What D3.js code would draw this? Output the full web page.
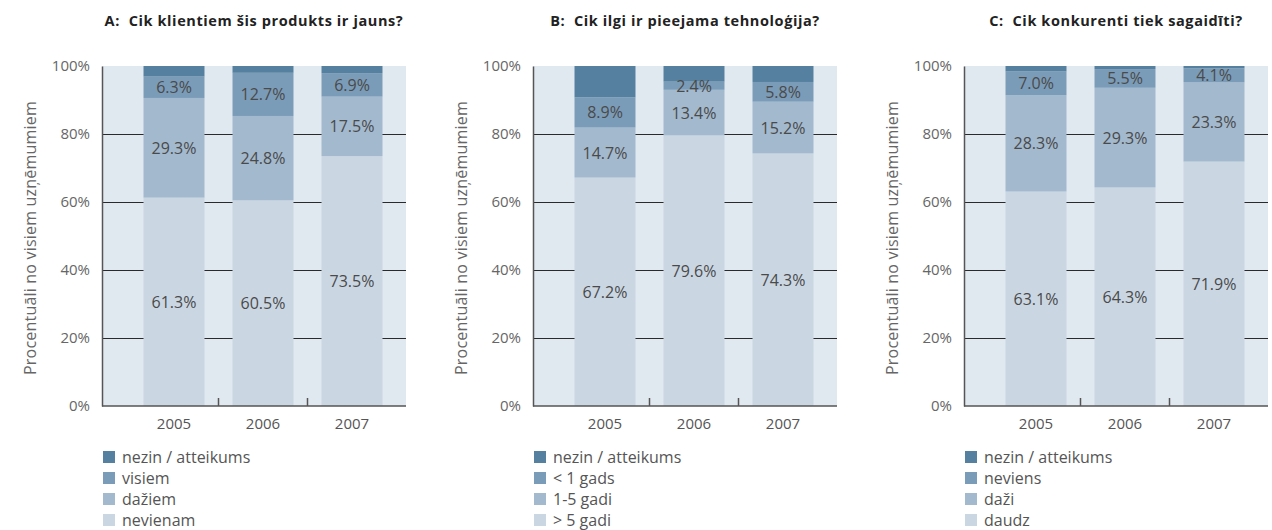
<!DOCTYPE html>
<html>
<head>
<meta charset="utf-8">
<script src="https://cdn.jsdelivr.net/npm/d3@7"></script>
<style>
  body { margin: 0; background: #fff; }
  text { font-family: "Open Sans", sans-serif; }
</style>
</head>
<body>
<script>
// Chart data
var years = ["2005", "2006", "2007"];
var titles = [
  "A:  Cik klientiem šis produkts ir jauns?",
  "B:  Cik ilgi ir pieejama tehnoloģija?",
  "C:  Cik konkurenti tiek sagaidīti?"
];
// series names, bottom of the stack first
var seriesA = ["nevienam", "dažiem", "visiem", "nezin / atteikums"];
var seriesB = ["> 5 gadi", "1-5 gadi", "< 1 gads", "nezin / atteikums"];
var seriesC = ["daudz", "daži", "neviens", "nezin / atteikums"];
// one row per series, one value per year
var valuesA = [[61.3, 60.5, 73.5], [29.3, 24.8, 17.5], [6.3, 12.7, 6.9], [3.1, 2.0, 2.1]];
var valuesB = [[67.2, 79.6, 74.3], [14.7, 13.4, 15.2], [8.9, 2.4, 5.8], [9.2, 4.6, 4.7]];
var valuesC = [[63.1, 64.3, 71.9], [28.3, 29.3, 23.3], [7.0, 5.5, 4.1], [1.6, 0.9, 0.7]];
var yTicks = [0, 20, 40, 60, 80, 100];
var gridTicks = [20, 40, 60, 80];

var colors = ["#cad7e3", "#a3b9ce", "#7b9cb8", "#56809f"];

var svgWidth = 1272;
var svgHeight = 530;

var svg = d3.select("body")
  .append("svg")
  .attr("width", svgWidth)
  .attr("height", svgHeight);

var panels = [
  { title: titles[0], series: seriesA, values: valuesA },
  { title: titles[1], series: seriesB, values: valuesB },
  { title: titles[2], series: seriesC, values: valuesC }
];

// plot area of one panel (panel A), the others are shifted
var plotLeft = 102;
var plotRight = 406;
var plotTop = 66;
var plotBottom = 406;
var panelStep = 431;

var yScale = d3.scaleLinear()
  .domain([0, 100])
  .range([plotBottom, plotTop]);

panels.forEach(function (p, i) {
  var g = svg.append("g")
    .attr("transform", `translate(${i * panelStep}, 0)`);

  var xScale = d3.scaleBand()
    .domain(years)
    .range([129.5, 396.5])
    .paddingInner(0.315)
    .paddingOuter(0.1575);

  // background
  g.append("rect")
    .attr("x", plotLeft)
    .attr("y", plotTop)
    .attr("width", plotRight - plotLeft)
    .attr("height", plotBottom - plotTop)
    .attr("fill", "#e0e8f0");

  // grid lines (behind bars)
  g.append("g")
    .attr("transform", `translate(${plotLeft}, 0)`)
    .call(d3.axisLeft(yScale).tickValues(gridTicks).tickSize(-(plotRight - plotLeft)).tickFormat(""))
    .call(s => s.select(".domain").remove())
    .call(s => s.selectAll(".tick line").attr("stroke", "#2a2a2a").attr("stroke-width", 1));

  // stacked data
  var rows = years.map(function (y, j) {
    var r = { year: y };
    p.values.forEach(function (v, k) { r[k] = v[j]; });
    return r;
  });
  var stack = d3.stack().keys(d3.range(p.values.length))(rows);

  var layers = g.selectAll(".layer")
    .data(stack)
    .enter()
    .append("g")
    .attr("fill", (d, k) => colors[k]);

  layers.selectAll("rect")
    .data(d => d)
    .enter()
    .append("rect")
    .attr("x", d => xScale(d.data.year))
    .attr("width", xScale.bandwidth())
    .attr("y", d => yScale(d[1]))
    .attr("height", d => yScale(d[0]) - yScale(d[1]));

  // value labels, top segment (nezin) has none
  stack.slice(0, 3).forEach(function (layer, k) {
    g.selectAll(null)
      .data(layer)
      .enter()
      .append("text")
      .attr("x", d => xScale(d.data.year) + xScale.bandwidth() / 2)
      .attr("y", d => yScale((d[0] + d[1]) / 2))
      .attr("text-anchor", "middle")
      .attr("dominant-baseline", "central")
      .attr("font-size", "16px")
      .attr("fill", "#4a4a4a")
      .text(d => (d[1] - d[0]).toFixed(1) + "%");
  });

  // y axis
  g.append("g")
    .attr("transform", `translate(${plotLeft}, 0)`)
    .call(d3.axisLeft(yScale).tickValues(yTicks).tickSize(0).tickPadding(12).tickFormat(d => d + "%"))
    .call(s => s.select(".domain").attr("stroke", "#555").attr("stroke-width", 1.5))
    .call(s => s.selectAll(".tick text")
      .attr("font-size", "15px")
      .attr("fill", "#666")
      .style("font-family", "'Open Sans', sans-serif"));

  // x axis baseline and ticks between bars
  g.append("line")
    .attr("x1", plotLeft)
    .attr("x2", plotRight)
    .attr("y1", plotBottom)
    .attr("y2", plotBottom)
    .attr("stroke", "#555")
    .attr("stroke-width", 1.5);

  g.selectAll(".sep")
    .data(years.slice(1))
    .enter()
    .append("line")
    .attr("x1", d => xScale(d) - xScale.step() * xScale.paddingInner() / 2)
    .attr("x2", d => xScale(d) - xScale.step() * xScale.paddingInner() / 2)
    .attr("y1", plotBottom)
    .attr("y2", plotBottom - 8)
    .attr("stroke", "#555")
    .attr("stroke-width", 1.5);

  g.selectAll(".year")
    .data(years)
    .enter()
    .append("text")
    .attr("x", d => xScale(d) + xScale.bandwidth() / 2)
    .attr("y", 429)
    .attr("text-anchor", "middle")
    .attr("font-size", "15px")
    .attr("fill", "#555")
    .text(d => d);

  // y axis title
  g.append("text")
    .attr("transform", `translate(30, ${(plotTop + plotBottom) / 2 + 2}) rotate(-90)`)
    .attr("text-anchor", "middle")
    .attr("dominant-baseline", "central")
    .attr("font-size", "16px")
    .attr("letter-spacing", "0.2px")
    .attr("fill", "#666")
    .text("Procentuāli no visiem uzņēmumiem");

  // title
  g.append("text")
    .attr("x", (plotLeft + plotRight) / 2)
    .attr("y", 26)
    .attr("text-anchor", "middle")
    .attr("font-size", "14.5px")
    .attr("font-weight", "bold")
    .attr("letter-spacing", "0.6px")
    .style("white-space", "pre")
    .attr("fill", "#222")
    .text(p.title);

  // legend, darkest first
  var legendItems = p.series.map((s, k) => ({ name: s, color: colors[k] })).reverse();
  var legend = g.selectAll(".legend")
    .data(legendItems)
    .enter()
    .append("g")
    .attr("transform", (d, k) => `translate(103, ${451 + k * 21})`);

  legend.append("rect")
    .attr("width", 12)
    .attr("height", 12)
    .attr("fill", d => d.color);

  legend.append("text")
    .attr("x", 19)
    .attr("y", 6)
    .attr("dominant-baseline", "central")
    .attr("font-size", "16px")
    .attr("fill", "#555")
    .text(d => d.name);
});
</script>
</body>
</html>
